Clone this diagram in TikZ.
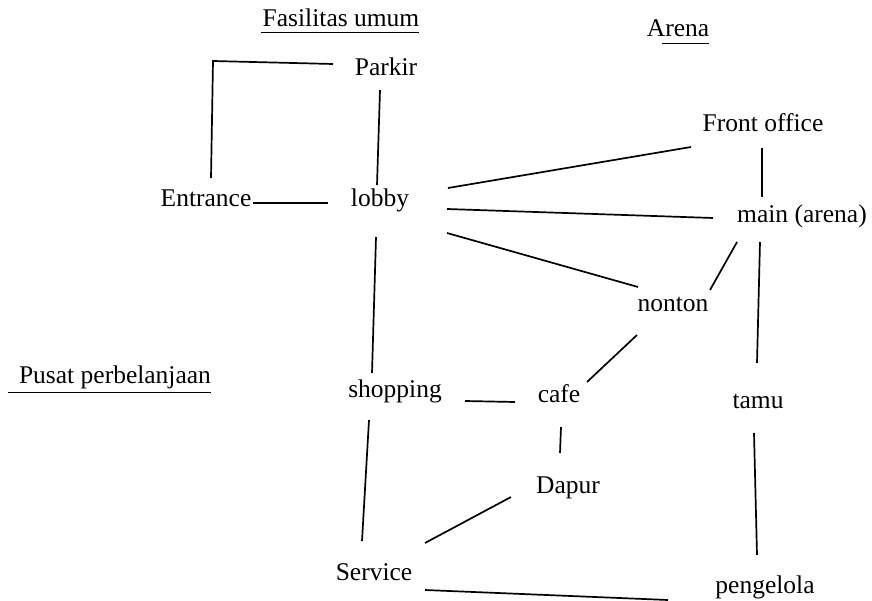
\documentclass[tikz,border=0pt]{standalone}
\usepackage{fontspec}
\setmainfont{Liberation Serif}
\begin{document}
\begin{tikzpicture}[x=1pt,y=-1pt,
  lbl/.style={anchor=base,inner sep=0pt,outer sep=0pt,
    font=\fontsize{25.5}{30}\selectfont},
  link/.style={line width=1.7pt},
  uline/.style={line width=0.9pt}]
\useasboundingbox (0,0) rectangle (872,601);

% group headings
\node[lbl] (fas) at (341,27) {Fasilitas umum};
\node[lbl] (arena) at (678,37) {Arena};
\node[lbl] (pusat) at (115,383) {Pusat perbelanjaan};
\draw[uline] ([shift={(-2,5)}]fas.base west) -- ([shift={(0,5)}]fas.base east);
\draw[uline] ([shift={(15,6)}]arena.base west) -- ([shift={(0,6)}]arena.base east);
\draw[uline] ([shift={(-11,9)}]pusat.base west) -- ([shift={(0,9)}]pusat.base east);

% rooms
\node[lbl] (parkir) at (386,76) {Parkir};
\node[lbl] (entrance) at (206,207) {Entrance};
\node[lbl] (lobby) at (380,207) {lobby};
\node[lbl] (front) at (763,132) {Front office};
\node[lbl] (main) at (802,223) {main (arena)};
\node[lbl] (nonton) at (673,312) {nonton};
\node[lbl] (shopping) at (395,397) {shopping};
\node[lbl] (cafe) at (559,402) {cafe};
\node[lbl] (tamu) at (758,408) {tamu};
\node[lbl] (dapur) at (568,493) {Dapur};
\node[lbl] (service) at (374,580) {Service};
\node[lbl] (pengelola) at (765,593) {pengelola};

% relations
\draw[link] ([shift={(-53,-12)}]parkir.base) -- ([shift={(-173,-15)}]parkir.base)
  -- ([shift={(5,-29)}]entrance.base);
\draw[link] ([shift={(-6,14)}]parkir.base) -- ([shift={(-3,-22)}]lobby.base);
\draw[link] ([shift={(47,-4)}]entrance.base) -- ([shift={(-52,-4)}]lobby.base);
\draw[link] ([shift={(68,-19)}]lobby.base) -- ([shift={(-72,15)}]front.base);
\draw[link] ([shift={(67,2)}]lobby.base) -- ([shift={(-89,-5)}]main.base);
\draw[link] ([shift={(67,26)}]lobby.base) -- ([shift={(-35,-25)}]nonton.base);
\draw[link] ([shift={(-1,16)}]front.base) -- ([shift={(-40,-26)}]main.base);
\draw[link] ([shift={(-65,19)}]main.base) -- ([shift={(37,-22)}]nonton.base);
\draw[link] ([shift={(-42,19)}]main.base) -- ([shift={(-1,-45)}]tamu.base);
\draw[link] ([shift={(-4,30)}]lobby.base) -- ([shift={(-23,-24)}]shopping.base);
\draw[link] ([shift={(-36,23)}]nonton.base) -- ([shift={(28,-20)}]cafe.base);
\draw[link] ([shift={(70,4)}]shopping.base) -- ([shift={(-44,0)}]cafe.base);
\draw[link] ([shift={(2,25)}]cafe.base) -- ([shift={(-8,-40)}]dapur.base);
\draw[link] ([shift={(-26,23)}]shopping.base) -- ([shift={(-12,-39)}]service.base);
\draw[link] ([shift={(-57,4)}]dapur.base) -- ([shift={(51,-37)}]service.base);
\draw[link] ([shift={(-4,25)}]tamu.base) -- ([shift={(-8,-38)}]pengelola.base);
\draw[link] ([shift={(51,10)}]service.base) -- ([shift={(-97,7)}]pengelola.base);
\end{tikzpicture}
\end{document}
